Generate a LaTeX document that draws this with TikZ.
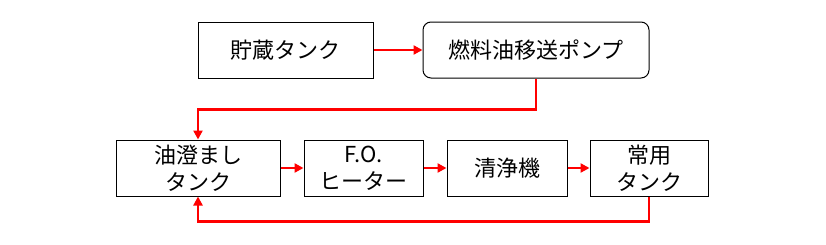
\documentclass[tikz,border=0pt]{standalone}
\usepackage{fontspec}
\newfontfamily\jpfont{Noto Sans CJK JP}
\usepackage{xcolor}
\usepackage{tikz}
\usetikzlibrary{arrows.meta,positioning}

\begin{document}
\begin{tikzpicture}[
    x=1pt, y=-1pt,
    tank/.style={rectangle, draw=black, line width=1pt, minimum height=56pt, inner sep=0pt, align=center, font=\jpfont\fontsize{22pt}{27pt}\selectfont},
    pump/.style={tank, rounded corners=8pt},
    flow/.style={-{Triangle[length=9pt, width=9pt]}, line width=2.6pt, draw=red}
]
\useasboundingbox (0,0) rectangle (826,244);

% Upper row
\node[tank, minimum width=175pt] (storage) at (285.5, 50) {貯蔵タンク};
\node[pump, minimum width=226pt] (pump) at (536, 50) {燃料油移送ポンプ};

% Lower row
\node[tank, minimum width=164pt] (settle) at (198, 168) {油澄まし\\タンク};
\node[tank, minimum width=119pt] (heater) at (363.5, 168) {F.O.\\ヒーター};
\node[tank, minimum width=120pt] (purifier) at (507, 168) {清浄機};
\node[tank, minimum width=118pt] (service) at (649, 168) {常用\\タンク};

% Flow lines
\draw[flow] (storage) -- (pump);
\draw[flow] (pump.south) -- ++(0,31) -| (settle.north);
\draw[flow] (settle) -- (heater);
\draw[flow] (heater) -- (purifier);
\draw[flow] (purifier) -- (service);
\draw[flow] (service.south) -- ++(0,25) -| (settle.south);

\end{tikzpicture}
\end{document}
